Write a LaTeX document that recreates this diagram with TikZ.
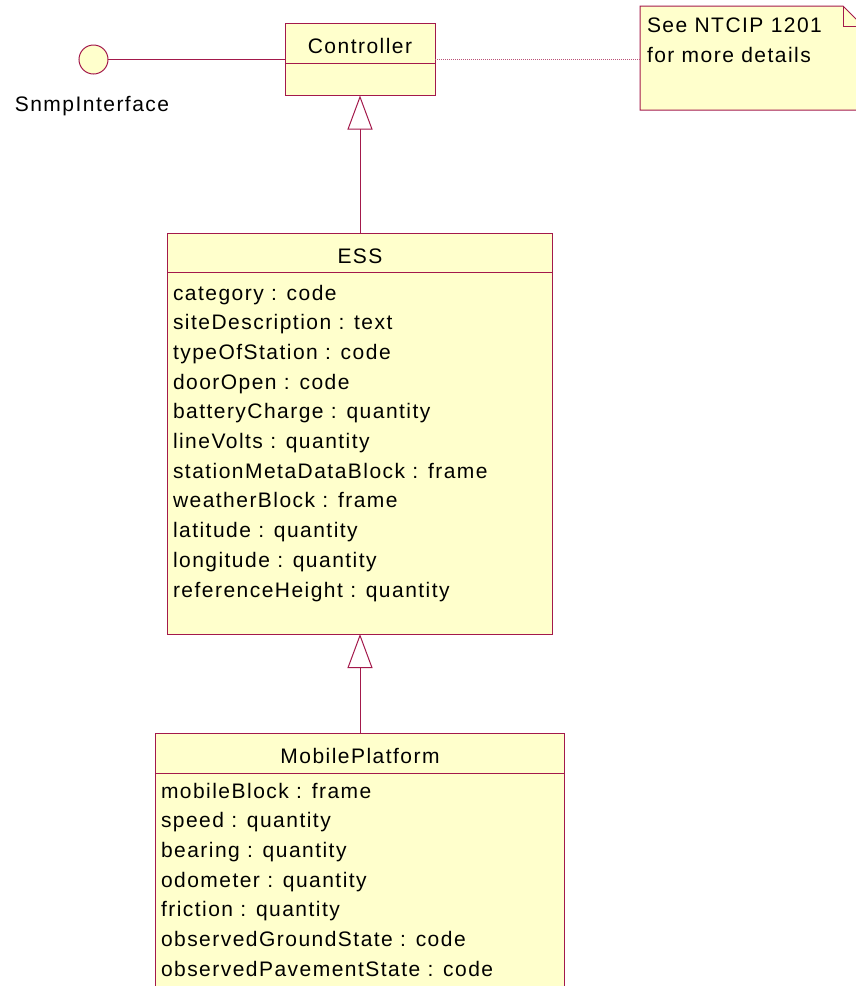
\documentclass[tikz,border=0pt]{standalone}
\usepackage{fontspec}
\setmainfont{Liberation Sans}[LetterSpace=7]
\usetikzlibrary{arrows.meta}
\definecolor{umlline}{HTML}{A3194B}
\definecolor{umlfill}{HTML}{FFFFCC}
\begin{document}
\begin{tikzpicture}[x=1pt,y=-1pt,
  every node/.style={font=\fontsize{21}{25}\selectfont, inner sep=0pt, outer sep=0pt},
  box/.style={draw=umlline, fill=umlfill, line width=1pt, rectangle},
  divider/.style={draw=umlline, line width=1pt},
  link/.style={draw=umlline, line width=1pt},
  notelink/.style={draw=umlline!75, line width=1.5pt, dash pattern=on 1pt off 1pt},
  gen/.style={draw=umlline, line width=1pt, -{Triangle[length=34pt,width=25pt,fill=white]}},
  attr/.style={anchor=base west},
  title/.style={anchor=base},
]
\useasboundingbox (0,0) rectangle (856,986);
\clip (0,0) rectangle (856,986);

% Controller class
\node[box, minimum width=150pt, minimum height=72pt] (ctrl) at (360,59.5) {};
\draw[divider] (285,63) -- (435,63);
\node[title] (ctrlname) at (360,53) {Controller};

% SNMP interface (lollipop)
\node[box, circle, minimum size=29pt] (snmp) at (93.5,59.5) {};
\node[title] (snmpname) at (92,111.7) {SnmpInterface};
\draw[link] (snmp) -- (ctrl);

% Note
\node[minimum width=223pt, minimum height=104pt] (note) at (751.5,58) {};
\draw[box] (note.north west) -- ++(203,0) -- ++(20,20) -- (note.south east)
  -- (note.south west) -- cycle;
\draw[divider] ([xshift=-20pt]note.north east) -- ++(0,20) -- ++(20,0);
\node[attr] (note1) at (647,32) {See NTCIP 1201};
\node[attr] (note2) at (647,62) {for more details};
\draw[notelink] (ctrl.east) -- (ctrl.east -| note.west);

% ESS class
\node[box, minimum width=385pt, minimum height=401pt] (ess) at (360,433.5) {};
\draw[divider] (167.5,272) -- (552.5,272);
\node[title] (essname) at (360,263) {ESS};
\foreach \t [count=\i from 0] in {category : code, siteDescription : text,
    typeOfStation : code, doorOpen : code, batteryCharge : quantity,
    lineVolts : quantity, stationMetaDataBlock : frame, weatherBlock : frame,
    latitude : quantity, longitude : quantity, referenceHeight : quantity}
  \node[attr] (essattr\i) at (173,300+29.7*\i) {\t};

% MobilePlatform class
\node[box, minimum width=409pt, minimum height=287pt] (mp) at (360,876.5) {};
\draw[divider] (155.5,773) -- (564.5,773);
\node[title] (mpname) at (360,763) {MobilePlatform};
\foreach \t [count=\i from 0] in {mobileBlock : frame, speed : quantity,
    bearing : quantity, odometer : quantity, friction : quantity,
    observedGroundState : code, observedPavementState : code}
  \node[attr] (mpattr\i) at (161,798+29.7*\i) {\t};

% Generalizations
\draw[gen] (ess.north) -- (ctrl.south);
\draw[gen] (mp.north) -- (ess.south);
\end{tikzpicture}
\end{document}
